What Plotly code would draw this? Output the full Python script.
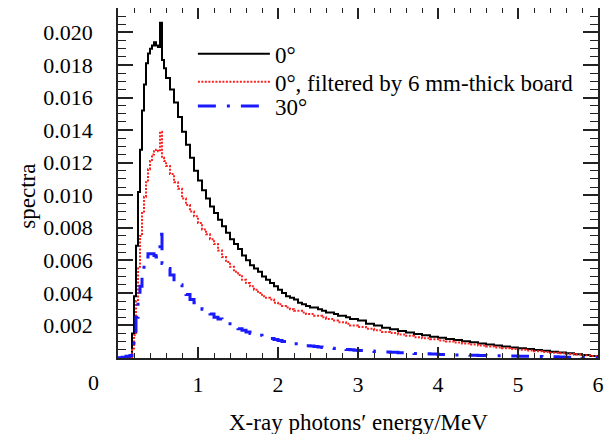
import plotly.graph_objects as go

# Bin left edges (MeV), last entry is the right edge of the final bin
energy_edges = [
    0.0, 0.05, 0.1,
    0.15, 0.175, 0.2, 0.225, 0.25, 0.275, 0.3, 0.325, 0.35, 0.375, 0.4, 0.425,
    0.45, 0.475, 0.5, 0.525, 0.55, 0.575,
    0.6, 0.65, 0.7, 0.75, 0.8, 0.85, 0.9, 0.95,
    1.0, 1.05, 1.1, 1.15, 1.2, 1.25, 1.3, 1.35, 1.4, 1.45,
    1.5, 1.55, 1.6, 1.65, 1.7, 1.75, 1.8, 1.85, 1.9, 1.95,
    2.0, 2.05, 2.1, 2.15, 2.2, 2.25, 2.3, 2.35, 2.4, 2.45,
    2.5, 2.55, 2.6, 2.65, 2.7, 2.75, 2.8, 2.85, 2.9, 2.95,
    3.0, 3.1, 3.2, 3.3, 3.4, 3.5, 3.6, 3.7, 3.8, 3.9,
    4.0, 4.1, 4.2, 4.3, 4.4, 4.5, 4.6, 4.7, 4.8, 4.9,
    5.0, 5.1, 5.2, 5.3, 5.4, 5.5, 5.6, 5.7, 5.8, 5.9,
    6.0,
]

spectrum_0deg = [
    0.0, 0.0, 0.0,
    0.0001, 0.0015, 0.0038, 0.0069, 0.0102, 0.0128, 0.0152, 0.0168, 0.0181, 0.0187, 0.0190, 0.0192,
    0.0194, 0.0192, 0.0191, 0.0206, 0.0183, 0.0178,
    0.0172, 0.0165, 0.0157, 0.0148, 0.0139, 0.0131, 0.0123, 0.0115,
    0.0109, 0.0103, 0.0098, 0.0093, 0.0089, 0.0085, 0.0081, 0.0077, 0.0073, 0.0070,
    0.0067, 0.0063, 0.0060, 0.0057, 0.0055, 0.0053, 0.0050, 0.0048, 0.0046, 0.0044,
    0.0042, 0.0040, 0.0038, 0.0037, 0.0036, 0.0034, 0.0033, 0.0032, 0.0031, 0.0031,
    0.0030, 0.0029, 0.0028, 0.0028, 0.0027, 0.0026, 0.0026, 0.0025, 0.0024, 0.0024,
    0.0023, 0.0021, 0.0020, 0.00186, 0.00176, 0.00166, 0.00157, 0.00147, 0.00139, 0.00131,
    0.00124, 0.00117, 0.00110, 0.00103, 0.00096, 0.00089, 0.00083, 0.00077, 0.00071, 0.00065,
    0.00060, 0.00055, 0.00049, 0.00044, 0.00039, 0.00034, 0.00029, 0.00023, 0.00018, 0.00012,
]

spectrum_0deg_filtered = [
    0.0, 0.0, 0.0,
    0.0, 0.0005, 0.0014, 0.0035, 0.0056, 0.0075, 0.0089, 0.0099, 0.0108, 0.0116, 0.0121, 0.0125,
    0.0127, 0.0128, 0.0127, 0.0139, 0.0123, 0.0121,
    0.0118, 0.0113, 0.0108, 0.0104, 0.0098, 0.0094, 0.0090, 0.0087,
    0.0083, 0.0079, 0.0076, 0.0073, 0.0070, 0.0066, 0.0062, 0.0059, 0.0056, 0.0053,
    0.0051, 0.0048, 0.0046, 0.0044, 0.0042, 0.0040, 0.0038, 0.0037, 0.0036, 0.0034,
    0.0033, 0.0032, 0.0031, 0.0030, 0.0029, 0.0029, 0.0028, 0.0027, 0.0027, 0.0026,
    0.0026, 0.0025, 0.0024, 0.0024, 0.0023, 0.0022, 0.0022, 0.0021, 0.0020, 0.0020,
    0.0019, 0.0018, 0.0017, 0.0016, 0.00153, 0.00144, 0.00136, 0.00128, 0.00121, 0.00115,
    0.00108, 0.00102, 0.00095, 0.00089, 0.00083, 0.00077, 0.00071, 0.00065, 0.00060, 0.00055,
    0.00050, 0.00046, 0.00042, 0.00037, 0.00033, 0.00029, 0.00025, 0.00021, 0.00017, 0.00012,
]

spectrum_30deg = [
    0.00002, 0.00005, 0.0001,
    0.00015, 0.0004, 0.0015, 0.0025, 0.0035, 0.0044, 0.0050, 0.0058, 0.0062, 0.0064, 0.0064, 0.0064,
    0.0063, 0.0062, 0.0063, 0.0076, 0.0058, 0.0057,
    0.0055, 0.0051, 0.0048, 0.0045, 0.0041, 0.0039, 0.0036, 0.0034,
    0.0032, 0.0030, 0.0028, 0.0027, 0.0025, 0.0024, 0.0022, 0.0021, 0.0020, 0.0019,
    0.0018, 0.0017, 0.0016, 0.0015, 0.00145, 0.0014, 0.0013, 0.00125, 0.0012, 0.00113,
    0.00107, 0.00102, 0.00097, 0.00092, 0.00088, 0.00084, 0.0008, 0.00076, 0.00073, 0.0007,
    0.00067, 0.00064, 0.00062, 0.0006, 0.00058, 0.00056, 0.00054, 0.00052, 0.0005, 0.00048,
    0.00046, 0.00043, 0.0004, 0.00037, 0.00035, 0.00033, 0.0003, 0.00028, 0.00026, 0.00024,
    0.00022, 0.0002, 0.00019, 0.00018, 0.00017, 0.00016, 0.00015, 0.00014, 0.00013, 0.00012,
    0.00011, 0.0001, 0.00009, 0.00008, 0.00007, 0.00006, 0.00005, 0.00004, 0.00003, 0.00002,
]

series_names = ["0°", "0°, filtered by 6 mm-thick board", "30°"]
x_tick_values = [1, 2, 3, 4, 5, 6]
y_tick_values = [0.002, 0.004, 0.006, 0.008, 0.010, 0.012, 0.014, 0.016, 0.018, 0.020]

FONT = "Liberation Serif"
TICK_SIZE = 22
TEXT_SIZE = 23

fig = go.Figure()
styles = [
    dict(color="black", width=2, dash="solid"),
    dict(color="#ff2020", width=2, dash="2px,1.5px"),
    dict(color="#1a1aff", width=3, dash="18px,11px,3px,11px"),
]
legend_ids = ["legend", "legend2", "legend3"]
for name, vals, st, lg in zip(series_names,
                              [spectrum_0deg, spectrum_0deg_filtered, spectrum_30deg],
                              styles, legend_ids):
    fig.add_trace(go.Scatter(
        x=energy_edges, y=vals + [vals[-1]], name=name, mode="lines",
        line=dict(shape="hv", **st), legend=lg,
    ))

axis_common = dict(
    showgrid=False, zeroline=False, showline=True, linecolor="#222",
    linewidth=1.5, mirror="ticks", ticks="inside", tickcolor="#222",
    tickwidth=1.5, tickfont=dict(family=FONT, size=TICK_SIZE, color="black"),
)
fig.update_xaxes(
    range=[0, 6], tickvals=x_tick_values, ticklen=11,
    minor=dict(dtick=0.2, ticks="inside", ticklen=5, tickcolor="#222", tickwidth=1.2),
    ticklabelstandoff=6,
    **axis_common,
)
fig.update_yaxes(
    range=[0, 0.0215], tickvals=y_tick_values, tickformat=".3f", ticklen=15,
    minor=dict(dtick=0.0005, ticks="inside", ticklen=8, tickcolor="#222", tickwidth=1.2),
    ticklabelstandoff=19,
    **axis_common,
)
# corner "0" label, axis titles
fig.add_annotation(text="0", x=-0.051, y=-0.071, xref="paper", yref="paper",
                   showarrow=False, xanchor="center", yanchor="middle",
                   font=dict(size=TICK_SIZE, family=FONT, color="black"))
fig.add_annotation(text="X-ray photons′ energy/MeV", x=0.502, y=-0.183,
                   xref="paper", yref="paper", showarrow=False,
                   xanchor="center", yanchor="middle",
                   font=dict(size=TEXT_SIZE, family=FONT, color="black"))
fig.add_annotation(text="spectra", x=-0.1875, y=0.461, textangle=-90,
                   xref="paper", yref="paper", showarrow=False,
                   xanchor="center", yanchor="middle",
                   font=dict(size=TEXT_SIZE, family=FONT, color="black"))

legend_common = dict(x=0.156, xanchor="left", yanchor="middle",
                     bgcolor="rgba(0,0,0,0)", itemwidth=72,
                     font=dict(size=TEXT_SIZE, family=FONT, color="black"))
fig.update_layout(
    width=607, height=426,
    margin=dict(l=110, r=17, t=0, b=76, autoexpand=False),
    paper_bgcolor="white", plot_bgcolor="white",
    font=dict(family=FONT, size=TEXT_SIZE, color="black"),
    showlegend=True,
    legend=dict(y=0.869, **legend_common),
    legend2=dict(y=0.789, **legend_common),
    legend3=dict(y=0.72, **legend_common),
)
fig.write_html("out.html")
